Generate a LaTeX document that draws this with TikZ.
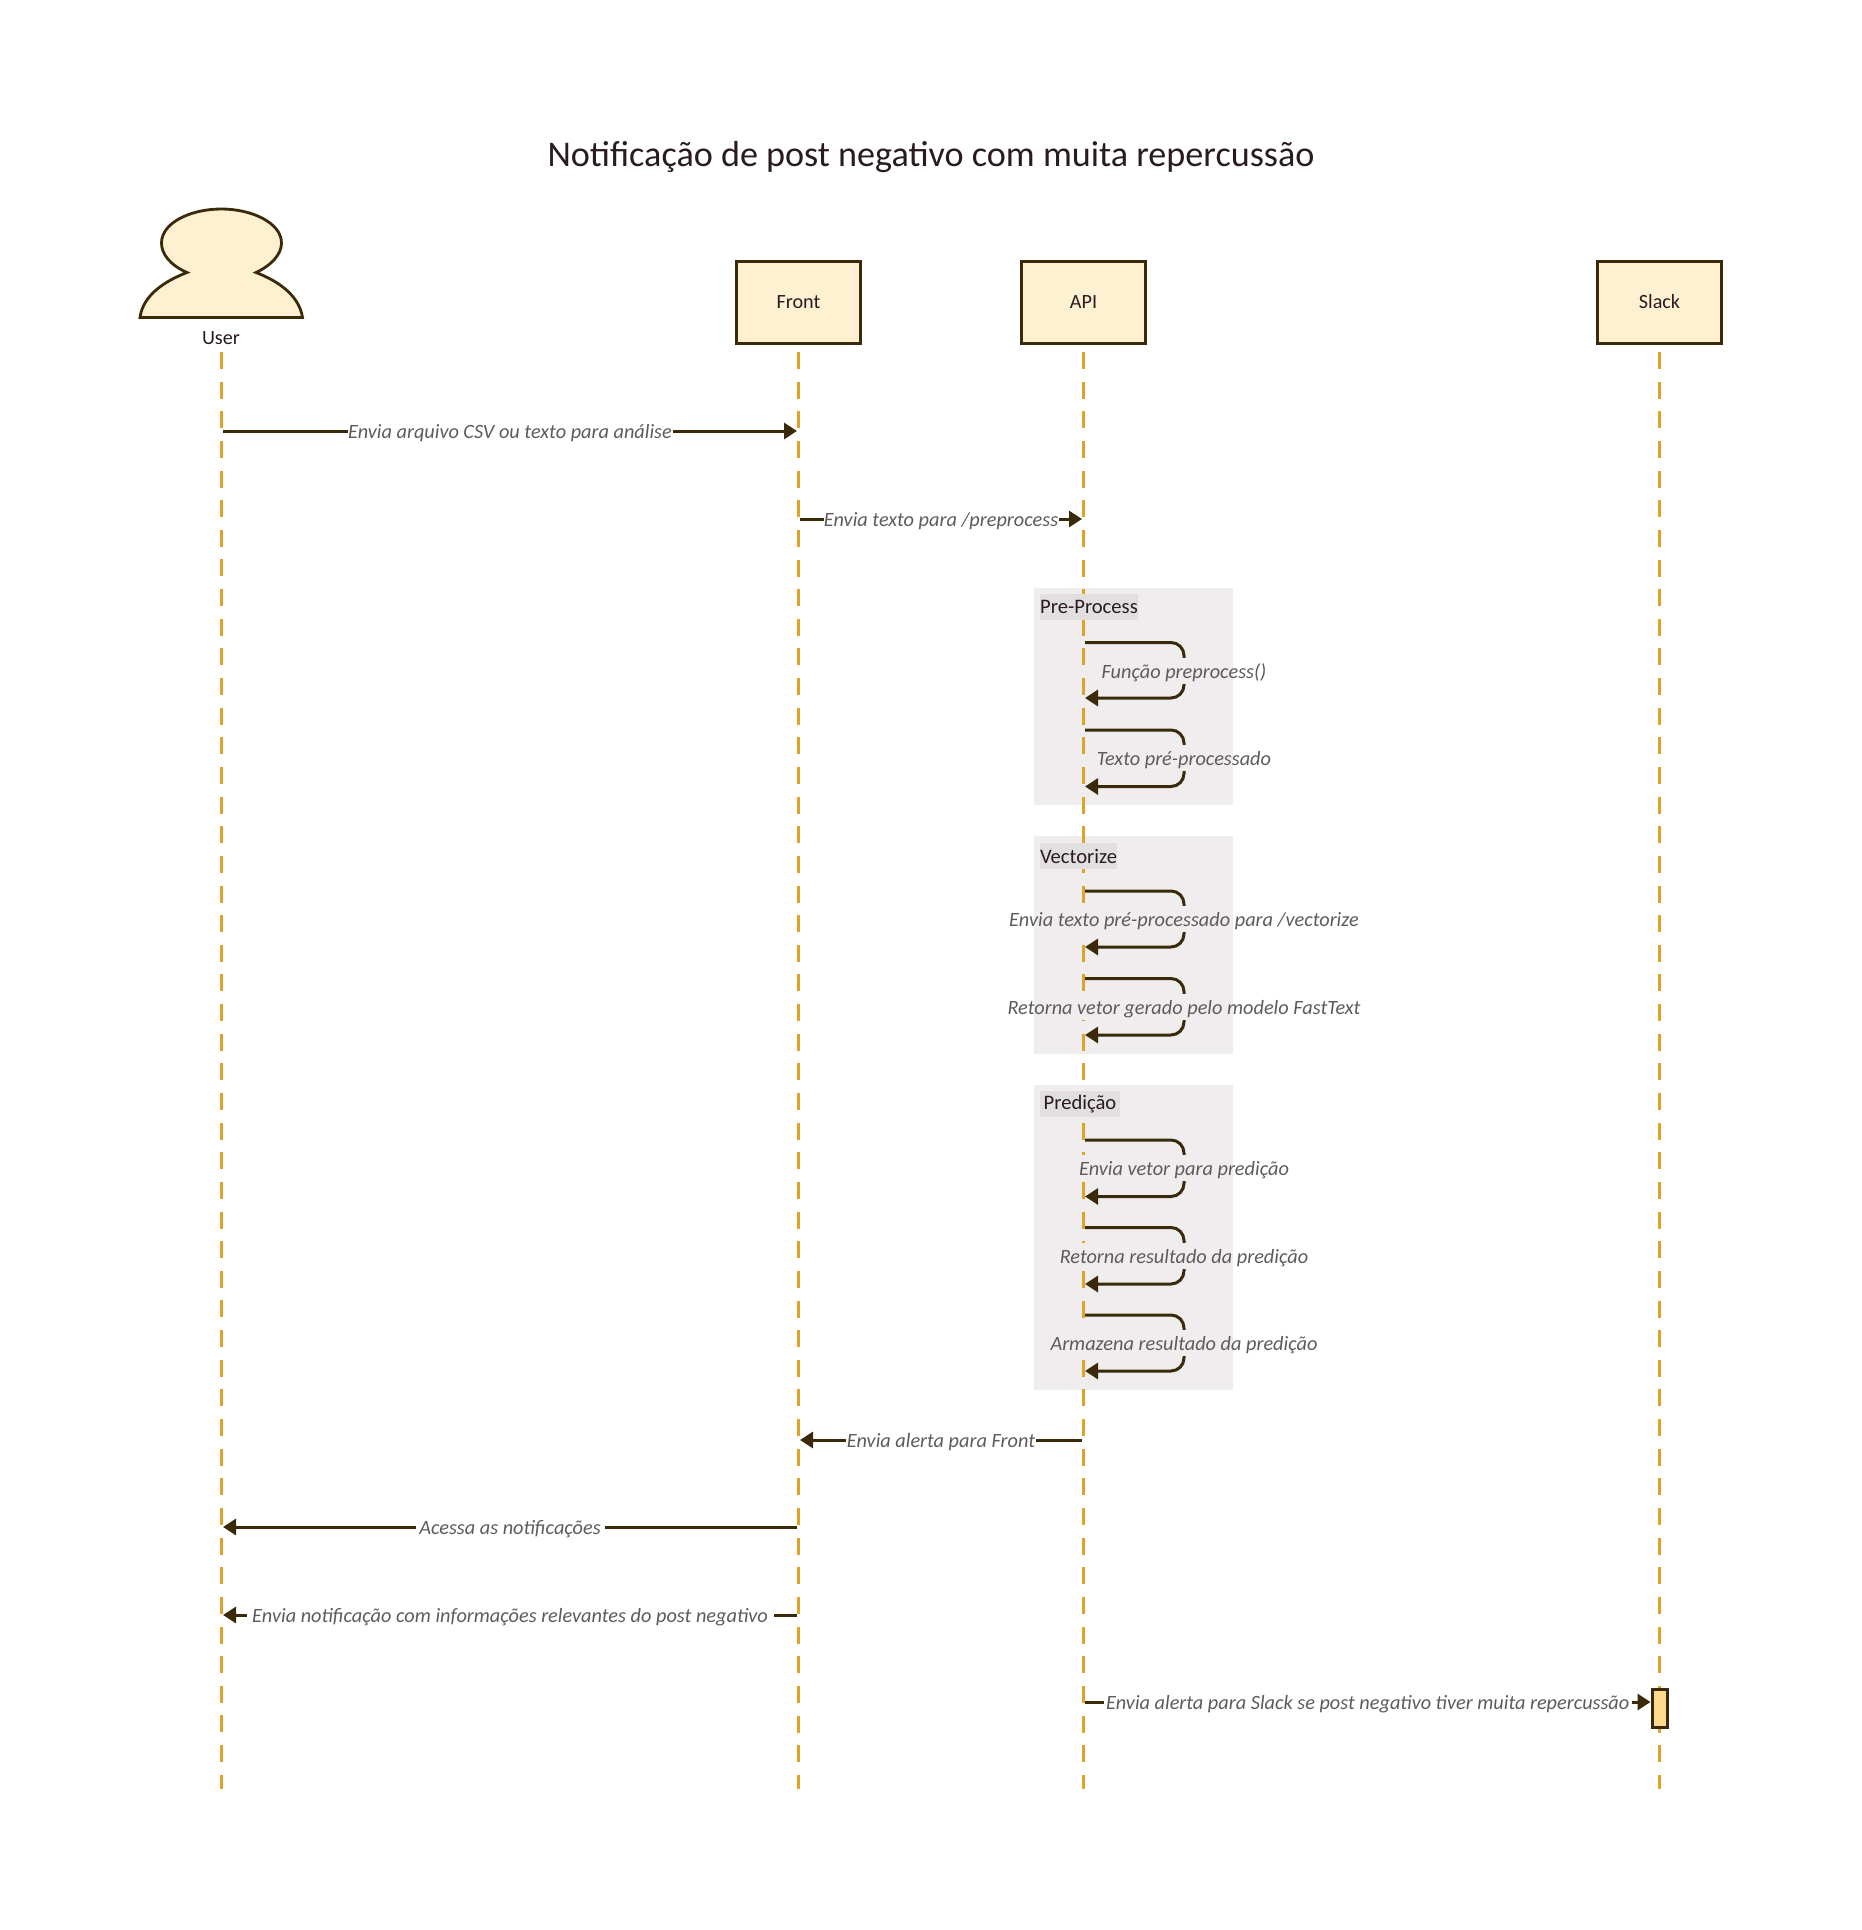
\documentclass[tikz,border=0pt]{standalone}
\usepackage{fontspec}
\setmainfont{Carlito}
\usetikzlibrary{arrows.meta}
\definecolor{ink}{HTML}{3A2A0A}
\definecolor{boxfill}{HTML}{FFF0D2}
\definecolor{lifecol}{HTML}{E0A328}
\definecolor{grp}{HTML}{EFEDEE}
\definecolor{grplab}{HTML}{E1DFDF}
\definecolor{msgtxt}{HTML}{5F5B5D}
\definecolor{titletxt}{HTML}{2A1B23}
\definecolor{actfill}{HTML}{FFD98E}
\tikzset{
  lifeline/.style={draw=lifecol,line width=3pt,dash pattern=on 17pt off 12.64pt},
  actor/.style={draw=ink,line width=3pt,fill=boxfill,minimum width=124pt,minimum height=82pt,inner sep=0pt,text=titletxt,font=\fontsize{20.2}{24}\selectfont},
  msg/.style={draw=ink,line width=3pt,-{Triangle[length=13pt,width=16pt]}},
  msgtext/.style={inner sep=0pt,yshift=-2.5pt,font=\fontsize{20.3}{25}\selectfont\itshape,text=msgtxt},
  msglabel/.style={msgtext,fill=white,minimum height=26pt},
  grouplabel/.style={fill=grplab,inner sep=0pt,minimum height=26pt,text=titletxt,font=\fontsize{20.6}{25}\selectfont}
}
\newcommand{\selfloop}[7]{% name, ytop, ybot, text, patch-left, label y, patch-right
  \coordinate (#1a) at (1085,#2);
  \coordinate (#1b) at (1085,#3);
  \coordinate (#1c) at (1184,#6);
  \draw[msg,rounded corners=13pt] (#1a) -| (#1c) |- (#1b);
  \fill[grp] (#5,#6-13) rectangle (#7,#6+13);
  \node[msgtext] (#1t) at (1184,#6) {#4};
}
\begin{document}
\begin{tikzpicture}[x=1pt,y=-1pt]
\useasboundingbox (0,0) rectangle (1862,1930);
\fill[white] (0,0) rectangle (1862,1930);

\node[inner sep=0pt,text=titletxt,font=\fontsize{36.15}{42}\selectfont] (title) at (931,157.5) {Notificação de post negativo com muita repercussão};

% groups
\fill[grp] (1033.5,587.5) rectangle (1233,805);
\fill[grp] (1033.5,836) rectangle (1233,1053.5);
\fill[grp] (1033.5,1085) rectangle (1233,1390);

% lifelines
\coordinate (uTop) at (221.5,352);
\coordinate (uEnd) at (221.5,1789);
\coordinate (fTop) at (798.5,322.4);
\coordinate (fEnd) at (798.5,1789);
\coordinate (aTop) at (1083.5,322.4);
\coordinate (aEnd) at (1083.5,1789);
\coordinate (sTop) at (1659.5,322.4);
\coordinate (sEnd) at (1659.5,1789);
\draw[lifeline] (uTop) -- (uEnd);
\draw[lifeline] (fTop) -- (fEnd);
\draw[lifeline] (aTop) -- (aEnd);
\draw[lifeline] (sTop) -- (sEnd);

% actors
\draw[ink,line width=2.8pt,fill=boxfill] (140,317.5)
  .. controls (143,295) and (165,281) .. (187,272.5)
  .. controls (170,265) and (161.5,254) .. (161.5,243)
  .. controls (161.5,223) and (190,209) .. (221.5,209)
  .. controls (252,209) and (281.5,223) .. (281.5,243)
  .. controls (281.5,254) and (272,265) .. (256,272.5)
  .. controls (278,281) and (299,295) .. (302.5,317.5) -- cycle;
\node[inner sep=0pt,text=titletxt,font=\fontsize{20.2}{24}\selectfont] (user) at (221,338) {User};
\node[actor] (front) at (798.5,302) {\raisebox{-2.5pt}{Front}};
\node[actor] (api) at (1083.5,302) {\raisebox{-2.5pt}{API}};
\node[actor] (slack) at (1659.5,302) {\raisebox{-2.5pt}{Slack}};

% group labels
\node[grouplabel,minimum width=98pt] (gp) at (1089,607) {\raisebox{-1.5pt}{Pre-Process}};
\node[grouplabel,minimum width=77pt] (gv) at (1078.5,856) {\raisebox{-1pt}{Vectorize}};
\node[grouplabel,minimum width=80pt] (gd) at (1080,1104) {\raisebox{-2.5pt}{Predição}};

% straight messages
\coordinate (m1a) at (223,431); \coordinate (m1b) at (797,431);
\draw[msg] (m1a) -- (m1b) node[msglabel,midway,minimum width=325pt] (m1t) {Envia arquivo CSV ou texto para análise};
\coordinate (m2a) at (800,519); \coordinate (m2b) at (1082,519);
\draw[msg] (m2a) -- (m2b) node[msglabel,midway,minimum width=235pt] (m2t) {Envia texto para /preprocess};

\selfloop{p1}{642.5}{698}{Função preprocess()}{1102}{670.5}{1233}
\selfloop{p2}{730}{786.5}{Texto pré-processado}{1096}{758}{1233}
\selfloop{v1}{891}{947}{Envia texto pré-processado para /vectorize}{1034}{919}{1233}
\selfloop{v2}{978.5}{1035}{Retorna vetor gerado pelo modelo FastText}{1034}{1007}{1233}
\selfloop{d1}{1140}{1196.5}{Envia vetor para predição}{1079}{1168}{1233}
\selfloop{d2}{1227.5}{1284}{Retorna resultado da predição}{1060}{1256}{1233}
\selfloop{d3}{1315}{1371}{Armazena resultado da predição}{1050}{1343}{1233}

\coordinate (m3a) at (1082,1440); \coordinate (m3b) at (800,1440);
\draw[msg] (m3a) -- (m3b) node[msglabel,midway,minimum width=190pt] (m3t) {Envia alerta para Front};
\coordinate (m4a) at (797,1527); \coordinate (m4b) at (223,1527);
\draw[msg] (m4a) -- (m4b) node[msglabel,midway,minimum width=189pt] (m4t) {Acessa as notificações};
\coordinate (m5a) at (797,1615); \coordinate (m5b) at (223,1615);
\draw[msg] (m5a) -- (m5b) node[msglabel,midway,minimum width=527pt] (m5t) {Envia notificação com informações relevantes do post negativo};

% activation
\node[draw=ink,line width=3pt,fill=actfill,minimum width=15pt,minimum height=38pt,inner sep=0pt] (act) at (1659.5,1708.5) {};
\coordinate (m6a) at (1085,1702);
\draw[msg] (m6a) -- (m6a -| act.west) node[msglabel,midway,minimum width=528pt] (m6t) {Envia alerta para Slack se post negativo tiver muita repercussão};
\end{tikzpicture}
\end{document}
